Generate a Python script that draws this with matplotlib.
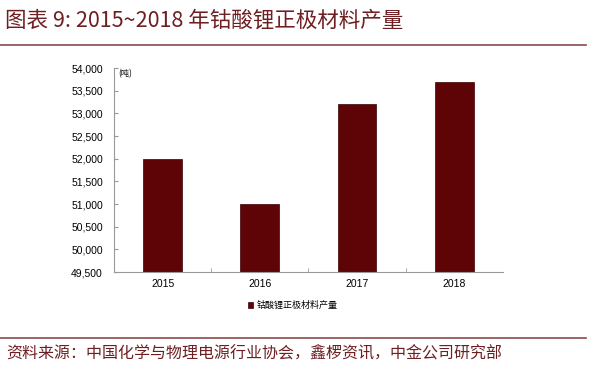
#!/usr/bin/env python3
import matplotlib
matplotlib.use('Agg')
import matplotlib.pyplot as plt  # noqa
from matplotlib.lines import Line2D  # noqa
from matplotlib.ticker import FuncFormatter, FixedLocator  # noqa

plt.rcParams['font.family'] = ['Liberation Sans', 'Noto Sans CJK SC', 'DejaVu Sans']

years = ['2015', '2016', '2017', '2018']
output_t = [52000, 51000, 53200, 53700]
series_name = '钴酸锂正极材料产量'
title = '图表 9: 2015~2018 年钴酸锂正极材料产量'
source = '资料来源：中国化学与物理电源行业协会，鑫椤资讯，中金公司研究部'
unit = '(吨)'

BAR = '#5e0306'
RED = '#6e1f22'
CJK = ['Noto Sans CJK SC', 'DejaVu Sans']

fig = plt.figure(figsize=(6, 3.78), dpi=100)
fig.patch.set_facecolor('white')

# header / footer
fig.text(0.008, 0.945, title, color=RED, fontsize=15.5,
         family=CJK, va='center', ha='left', style='italic')
fig.add_artist(Line2D([0, 0.977], [0.881, 0.881], color='#8a4a4a', lw=1.2))
fig.add_artist(Line2D([0, 0.977], [0.106, 0.106], color='#8a4a4a', lw=1.2))
fig.text(0.01, 0.063, source, color=RED, fontsize=11.5, fontweight='medium',
         family=CJK, va='center', ha='left')

ax = fig.add_axes([0.19, 0.280, 0.648, 0.540])
x = range(len(years))
ax.bar(x, output_t, width=0.4, color=BAR, edgecolor='#3a0002', lw=0.5,
       label=series_name)
ax.set_xlim(-0.5, len(years) - 0.5)
ax.set_ylim(49500, 54000)
ax.set_yticks(range(49500, 54001, 500))
ax.yaxis.set_major_formatter(FuncFormatter(lambda v, p: f'{int(v):,}'))
ax.set_xticks(list(x))
ax.set_xticklabels(years)
ax.xaxis.set_minor_locator(FixedLocator([i + 0.5 for i in range(len(years) - 1)]))
ax.tick_params(axis='x', which='major', length=0, labelsize=7.5, pad=5)
ax.tick_params(axis='x', which='minor', length=3, direction='in', color='#999999')
ax.tick_params(axis='y', length=3, direction='in', color='#999999',
               labelsize=7.5, pad=8)
for s in ('top', 'right'):
    ax.spines[s].set_visible(False)
for s in ('left', 'bottom'):
    ax.spines[s].set_color('#999999')
    ax.spines[s].set_linewidth(0.8)

ax.text(0.01, 0.995, unit, transform=ax.transAxes, fontsize=6,
        family=CJK, va='top', ha='left')

leg = ax.legend(loc='upper center', bbox_to_anchor=(0.46, -0.1), frameon=False,
                prop={'family': CJK, 'size': 6.5}, handlelength=0.6,
                handleheight=0.6, handletextpad=0.4)

fig.savefig('out.png', dpi=100)
